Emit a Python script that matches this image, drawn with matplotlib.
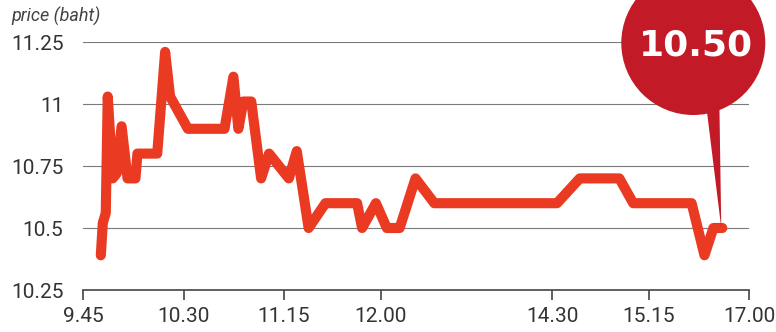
import matplotlib.pyplot as plt
from matplotlib.patches import Circle, Polygon
from matplotlib.transforms import IdentityTransform, ScaledTranslation

plt.rcParams['font.family'] = ['Roboto', 'DejaVu Sans']

# x in "slot" units along the drawn axis (one 45-minute step ~ 1)
tick_pos = [0, 1.02, 2.03, 3.01, 4.74, 5.72, 6.73]
tick_labels = ["9.45", "10.30", "11.15", "12.00", "14.30", "15.15", "17.00"]

x = [0.18, 0.20, 0.23, 0.25, 0.30, 0.34, 0.39, 0.45, 0.53, 0.55, 0.75, 0.83,
     0.88, 1.06, 1.43, 1.52, 1.57, 1.62, 1.70, 1.80, 1.88, 2.08, 2.16, 2.28,
     2.45, 2.77, 2.82, 2.96, 3.07, 3.20, 3.36, 3.55, 4.79, 5.02, 5.42, 5.56,
     6.15, 6.28, 6.37, 6.46]
price = [10.39, 10.52, 10.56, 11.03, 10.70, 10.72, 10.91, 10.70, 10.70, 10.80,
         10.80, 11.21, 11.03, 10.90, 10.90, 11.11, 10.90, 11.01, 11.01, 10.70,
         10.80, 10.70, 10.81, 10.50, 10.60, 10.60, 10.50, 10.60, 10.50, 10.50,
         10.70, 10.60, 10.60, 10.70, 10.70, 10.60, 10.60, 10.39, 10.50, 10.50]

y_ticks = [10.25, 10.5, 10.75, 11, 11.25]
y_labels = ["10.25", "10.5", "10.75", "11", "11.25"]
last_label = "10.50"

line_red = "#ea3a22"
bubble_red = "#c21a26"

fig = plt.figure(figsize=(7.76, 3.32), dpi=100)
ax = fig.add_axes([83 / 776, 42 / 332, 666 / 776, 248 / 332])

for yv in y_ticks[1:]:
    ax.axhline(yv, color="#7a7a7a", lw=0.8, zorder=1)

ax.plot(x, price, color=line_red, lw=7.3, solid_joinstyle="round",
        solid_capstyle="round", zorder=3)

ax.set_xlim(tick_pos[0], tick_pos[-1])
ax.set_ylim(10.25, 11.25)
ax.set_xticks(tick_pos)
ax.set_xticklabels(tick_labels)
ax.set_yticks(y_ticks)
ax.set_yticklabels(y_labels)

for s in ["top", "right", "left"]:
    ax.spines[s].set_visible(False)
ax.spines["bottom"].set_color("#444444")
ax.spines["bottom"].set_linewidth(1.2)
ax.tick_params(axis="x", direction="out", length=7, width=1.2, color="#444444",
               pad=5, labelsize=15, labelcolor="#333333")
ax.tick_params(axis="y", length=0, pad=14, labelsize=15, labelcolor="#333333")

fig.text(11 / 776, 1 - 22 / 332, "price (baht)", fontsize=13, style="italic",
         color="#444444", va="baseline", ha="left")

# callout bubble anchored to the last point, sized in pixels
anchor = IdentityTransform() + ScaledTranslation(x[-1], price[-1], ax.transData)
ax.add_patch(Polygon([(-17, 130), (-3, 130), (-1, 0)], closed=True,
                     facecolor=bubble_red, edgecolor="none",
                     transform=anchor, clip_on=False, zorder=5))
ax.add_patch(Circle((-29, 185), 72, facecolor=bubble_red, edgecolor="none",
                    transform=anchor, clip_on=False, zorder=5))
ax.annotate(last_label, xy=(x[-1], price[-1]), xytext=(-26, 183),
            textcoords="offset pixels", ha="center", va="center",
            color="white", fontsize=26, fontweight="bold",
            family="DejaVu Sans", zorder=6)

fig.savefig("out.png", dpi=100)
